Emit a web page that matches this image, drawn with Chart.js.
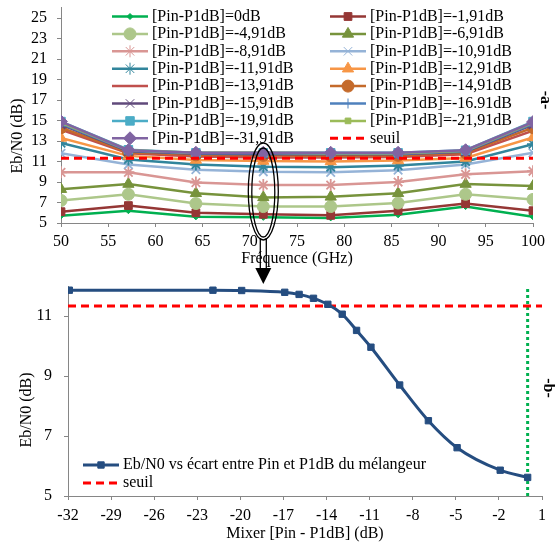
<!DOCTYPE html>
<html>
<head>
<meta charset="utf-8">
<script src="https://cdn.jsdelivr.net/npm/chart.js@4.4.0/dist/chart.umd.min.js"></script>
<style>
    html, body { margin: 0; padding: 0; background: #fff; }
    #wrap { position: relative; width: 555px; height: 543px; overflow: hidden; }
    #topChart { position: absolute; left: 0; top: 0; }
    #bottomChart { position: absolute; left: 0; top: 270px; }
</style>
</head>
<body>
<div id="wrap">
    <canvas id="topChart" width="555" height="290"></canvas>
    <canvas id="bottomChart" width="555" height="273"></canvas>
</div>
<script>
// ---- data (-a-) : Eb/N0 vs frequency, one series per mixer back-off ----
const frequencies = [50, 57.14, 64.29, 71.43, 78.57, 85.71, 92.86, 100];
const freqTicks = [50, 55, 60, 65, 70, 75, 80, 85, 90, 95, 100];
const topYTicks = [5, 7, 9, 11, 13, 15, 17, 19, 21, 23, 25];

const seriesLabels = [
    '[Pin-P1dB]=0dB', '[Pin-P1dB]=-1,91dB', '[Pin-P1dB]=-4,91dB', '[Pin-P1dB]=-6,91dB',
    '[Pin-P1dB]=-8,91dB', '[Pin-P1dB]=-10,91dB', '[Pin-P1dB]=-11,91dB', '[Pin-P1dB]=-12,91dB',
    '[Pin-P1dB]=-13,91dB', '[Pin-P1dB]=-14,91dB', '[Pin-P1dB]=-15,91dB', '[Pin-P1dB]=-16.91dB',
    '[Pin-P1dB]=-19,91dB', '[Pin-P1dB]=-21,91dB', '[Pin-P1dB]=-31,91dB'
];

const ebn0_0     = [5.7, 6.2, 5.6, 5.55, 5.5, 5.8, 6.6, 5.6];
const ebn0_1_91  = [6.1, 6.7, 6.0, 5.85, 5.75, 6.2, 6.9, 6.2];
const ebn0_4_91  = [7.2, 7.8, 6.9, 6.6, 6.6, 6.95, 7.8, 7.3];
const ebn0_6_91  = [8.3, 8.8, 7.9, 7.5, 7.55, 7.9, 8.8, 8.6];
const ebn0_8_91  = [9.95, 9.95, 8.95, 8.7, 8.7, 9.0, 9.75, 10.05];
const ebn0_10_91 = [11.8, 10.7, 10.2, 10.0, 9.95, 10.15, 10.7, 11.85];
const ebn0_11_91 = [12.8, 11.2, 10.7, 10.5, 10.45, 10.6, 11.0, 12.7];
const ebn0_12_91 = [13.3, 11.55, 11.15, 11.05, 11.0, 11.1, 11.35, 13.35];
const ebn0_13_91 = [14.1, 11.8, 11.5, 11.4, 11.4, 11.45, 11.7, 14.0];
const ebn0_14_91 = [14.3, 11.9, 11.65, 11.6, 11.55, 11.6, 11.85, 14.3];
const ebn0_15_91 = [14.6, 12.0, 11.75, 11.7, 11.7, 11.7, 11.95, 14.6];
const ebn0_16_91 = [14.7, 12.05, 11.8, 11.8, 11.75, 11.75, 12.0, 14.7];
const ebn0_19_91 = [14.9, 12.15, 11.85, 11.85, 11.85, 11.85, 12.1, 14.9];
const ebn0_21_91 = [14.8, 12.1, 11.85, 11.85, 11.8, 11.8, 12.05, 14.8];
const ebn0_31_91 = [14.9, 12.1, 11.85, 11.85, 11.85, 11.85, 12.1, 14.85];

const seriesValues = [
    ebn0_0, ebn0_1_91, ebn0_4_91, ebn0_6_91, ebn0_8_91, ebn0_10_91, ebn0_11_91, ebn0_12_91,
    ebn0_13_91, ebn0_14_91, ebn0_15_91, ebn0_16_91, ebn0_19_91, ebn0_21_91, ebn0_31_91
];

const seuil = 11.33;
const highlightFreq = 71.43;

// ---- data (-b-) : Eb/N0 vs mixer back-off at the highlighted frequency ----
const backoff = [-31.91, -21.91, -19.91, -16.91, -15.91, -14.91, -13.91, -12.91, -11.91, -10.91, -8.91, -6.91, -4.91, -1.91, 0];
const ebn0AtHighlight = [11.86, 11.86, 11.85, 11.79, 11.72, 11.59, 11.39, 11.06, 10.52, 9.96, 8.70, 7.51, 6.61, 5.86, 5.62];
const backoffTicks = [-32, -29, -26, -23, -20, -17, -14, -11, -8, -5, -2, 1];
const bottomYTicks = [5, 7, 9, 11];
const p1dbMarker = 0;

// ---- styles ----
const serif = 'Liberation Serif';
const axisGrey = '#868686';

const seriesStyles = [
    { color: '#00B050', pointStyle: 'rectRot', radius: 3 },
    { color: '#953735', pointStyle: 'rect', radius: 5.5 },
    { color: '#ADC78A', pointStyle: 'circle', radius: 6 },
    { color: '#77933C', pointStyle: 'triangle', radius: 6.5 },
    { color: '#D99694', pointStyle: 'star', radius: 6 },
    { color: '#95B3D7', pointStyle: 'crossRot', radius: 6 },
    { color: '#31859C', pointStyle: 'star', radius: 6 },
    { color: '#F79646', pointStyle: 'triangle', radius: 6.5 },
    { color: '#C0504D', pointStyle: 'line', radius: 5 },
    { color: '#C46A2B', pointStyle: 'circle', radius: 6 },
    { color: '#604A7B', pointStyle: 'crossRot', radius: 6 },
    { color: '#4F81BD', pointStyle: 'line', radius: 5, rotation: 90 },
    { color: '#4BACC6', pointStyle: 'rect', radius: 6 },
    { color: '#9BBB59', pointStyle: 'rect', radius: 4 },
    { color: '#8064A2', pointStyle: 'rectRot', radius: 6.5 }
];

function ticksFrom(list) {
    return function(scale) {
        scale.ticks = list.map(v => ({ value: v }));
    };
}

// fixed axis size, no extra padding for edge labels
function fixWidth(w) {
    return function(s) { s.width = w; s.paddingTop = 0; s.paddingBottom = 0; };
}
function fixHeight(h) {
    return function(s) { s.height = h; };
}

function drawMarker(ctx, ds, x, y) {
    if (!ds.pointRadius) return;
    ctx.save();
    ctx.fillStyle = ds.pointBackgroundColor;
    ctx.strokeStyle = ds.pointBorderColor;
    Chart.helpers.drawPoint(ctx, {
        pointStyle: ds.pointStyle,
        rotation: ds.pointRotation || 0,
        radius: ds.pointRadius,
        borderWidth: ds.pointBorderWidth
    }, x, y);
    ctx.restore();
}

// legend drawn inside the plot area, like the Excel original
const insideLegend = {
    id: 'insideLegend',
    afterDraw(chart, args, opts) {
        if (!opts || !opts.display) return;
        const ctx = chart.ctx;
        const items = chart.data.datasets.filter(d => d.inLegend !== false);
        ctx.save();
        ctx.font = opts.font;
        ctx.textBaseline = 'middle';
        ctx.textAlign = 'left';
        items.forEach((ds, i) => {
            const col = i % opts.cols;
            const row = Math.floor(i / opts.cols);
            const x = opts.left + col * opts.colWidth;
            const y = opts.top + row * opts.rowHeight;
            ctx.save();
            ctx.strokeStyle = ds.borderColor;
            ctx.lineWidth = ds.borderWidth;
            ctx.setLineDash(ds.borderDash || []);
            ctx.beginPath();
            ctx.moveTo(x, y);
            ctx.lineTo(x + opts.lineLen, y);
            ctx.stroke();
            ctx.restore();
            drawMarker(ctx, ds, x + opts.lineLen / 2, y);
            ctx.fillStyle = '#000';
            ctx.fillText(ds.label, x + opts.lineLen + opts.gap, y);
        });
        ctx.restore();
    }
};

// rotated axis title placed like the Excel one
const yTitle = {
    id: 'yTitle',
    afterDraw(chart, args, opts) {
        if (!opts || !opts.text) return;
        const ctx = chart.ctx;
        ctx.save();
        ctx.translate(opts.x, opts.y);
        ctx.rotate(-Math.PI / 2);
        ctx.font = '16px "' + serif + '"';
        ctx.fillStyle = '#000';
        ctx.textAlign = 'center';
        ctx.textBaseline = 'middle';
        ctx.fillText(opts.text, 0, 0);
        ctx.restore();
    }
};

function drawSideLabel(ctx, text, x, y) {
    ctx.save();
    ctx.translate(x, y);
    ctx.rotate(Math.PI / 2);
    ctx.font = 'bold 16px "' + serif + '"';
    ctx.fillStyle = '#000';
    ctx.textAlign = 'center';
    ctx.textBaseline = 'middle';
    ctx.fillText(text, 0, 0);
    ctx.restore();
}

// ellipse around the highlighted frequency and arrow down to chart -b-
const zoomAnnotation = {
    id: 'zoomAnnotation',
    afterDraw(chart) {
        const ctx = chart.ctx;
        const cx = chart.scales.x.getPixelForValue(highlightFreq);
        const top = 143, bottom = 240;
        const cy = (top + bottom) / 2;
        ctx.save();
        ctx.strokeStyle = '#000';
        ctx.lineWidth = 1.3;
        ctx.beginPath();
        ctx.ellipse(cx, cy, 15, (bottom - top) / 2, 0, 0, Math.PI * 2);
        ctx.stroke();
        ctx.beginPath();
        ctx.ellipse(cx, cy + 1, 11.5, (bottom - top) / 2 - 4, 0, 0, Math.PI * 2);
        ctx.stroke();
        // double shaft
        ctx.beginPath();
        ctx.moveTo(cx - 3, bottom - 2); ctx.lineTo(cx - 3, 270);
        ctx.moveTo(cx + 3, bottom - 2); ctx.lineTo(cx + 3, 270);
        ctx.stroke();
        // head
        ctx.fillStyle = '#000';
        ctx.beginPath();
        ctx.moveTo(cx - 8, 268);
        ctx.lineTo(cx + 8, 268);
        ctx.lineTo(cx, 284);
        ctx.closePath();
        ctx.fill();
        ctx.restore();
        drawSideLabel(ctx, '-a-', 545, 100);
    }
};

function axisFont() {
    return { family: serif, size: 16 };
}

function initTopChart() {
    const ctx = document.getElementById('topChart');
    const n = seriesValues.length;

    const datasets = seriesValues.map((vals, i) => {
        const st = seriesStyles[i];
        return {
            label: seriesLabels[i],
            data: frequencies.map((f, k) => ({ x: f, y: vals[k] })),
            borderColor: st.color,
            backgroundColor: st.color,
            borderWidth: 2.5,
            pointStyle: st.pointStyle,
            pointRadius: st.radius,
            pointRotation: st.rotation || 0,
            pointBackgroundColor: st.color,
            pointBorderColor: st.color,
            pointBorderWidth: (st.pointStyle === 'star' || st.pointStyle === 'crossRot' || st.pointStyle === 'line') ? 1.8 : 1,
            tension: 0,
            order: n + 1 - i
        };
    });

    datasets.push({
        label: 'seuil',
        data: [{ x: freqTicks[0], y: seuil }, { x: freqTicks[freqTicks.length - 1], y: seuil }],
        borderColor: '#FF0000',
        borderWidth: 3,
        borderDash: [8, 5],
        pointRadius: 0,
        order: 0
    });

    new Chart(ctx, {
        type: 'line',
        data: { datasets: datasets },
        options: {
            responsive: false,
            animation: false,
            layout: { padding: { left: 0, top: 7, right: 22, bottom: 22 } },
            plugins: {
                legend: { display: false },
                tooltip: { enabled: false },
                insideLegend: {
                    display: true,
                    font: '16px "' + serif + '"',
                    left: 112, top: 16.5, cols: 2, colWidth: 218, rowHeight: 17.4,
                    lineLen: 36, gap: 4
                },
                yTitle: { text: 'Eb/N0 (dB)', x: 18, y: 136 }
            },
            scales: {
                x: {
                    type: 'linear',
                    min: 50,
                    max: 100,
                    afterBuildTicks: ticksFrom(freqTicks),
                    afterFit: fixHeight(45),
                    grid: { drawOnChartArea: false, tickLength: 4, color: axisGrey },
                    border: { color: axisGrey },
                    ticks: { color: '#000', font: axisFont(), padding: 5, maxRotation: 0, autoSkip: false },
                    title: { display: true, text: 'Fréquence (GHz)', color: '#000', font: axisFont(), padding: 0 }
                },
                y: {
                    type: 'linear',
                    min: 5,
                    max: 26,
                    afterBuildTicks: ticksFrom(topYTicks),
                    afterFit: fixWidth(61),
                    grid: { drawOnChartArea: false, tickLength: 4, color: axisGrey },
                    border: { color: axisGrey },
                    ticks: { color: '#000', font: axisFont(), padding: 10, autoSkip: false }
                }
            }
        },
        plugins: [insideLegend, yTitle, zoomAnnotation]
    });
}

function initBottomChart() {
    const ctx = document.getElementById('bottomChart');

    const sideLabel = {
        id: 'sideLabel',
        afterDraw(chart) { drawSideLabel(chart.ctx, '-b-', 548, 118); }
    };

    new Chart(ctx, {
        type: 'line',
        data: {
            datasets: [
                {
                    label: 'Eb/N0 vs écart entre Pin et P1dB du mélangeur',
                    data: backoff.map((b, i) => ({ x: b, y: ebn0AtHighlight[i] })),
                    borderColor: '#254D80',
                    backgroundColor: '#254D80',
                    borderWidth: 3,
                    pointStyle: 'rect',
                    pointRadius: 4.5,
                    pointBackgroundColor: '#254D80',
                    pointBorderColor: '#254D80',
                    pointBorderWidth: 1,
                    cubicInterpolationMode: 'monotone',
                    order: 1
                },
                {
                    label: 'seuil',
                    data: [{ x: backoffTicks[0], y: seuil }, { x: backoffTicks[backoffTicks.length - 1], y: seuil }],
                    borderColor: '#FF0000',
                    borderWidth: 3,
                    borderDash: [8, 5],
                    pointRadius: 0,
                    order: 2
                },
                {
                    label: 'P1dB',
                    inLegend: false,
                    data: [{ x: p1dbMarker, y: 5 }, { x: p1dbMarker, y: 12 }],
                    borderColor: '#00B050',
                    borderWidth: 3,
                    borderDash: [3, 3],
                    pointRadius: 0,
                    order: 3
                }
            ]
        },
        options: {
            responsive: false,
            animation: false,
            layout: { padding: { left: 0, top: 16, right: 13, bottom: 0 } },
            plugins: {
                legend: { display: false },
                tooltip: { enabled: false },
                insideLegend: {
                    display: true,
                    font: '16px "' + serif + '"',
                    left: 83, top: 195, cols: 1, colWidth: 0, rowHeight: 18,
                    lineLen: 36, gap: 4
                },
                yTitle: { text: 'Eb/N0 (dB)', x: 27, y: 140 }
            },
            scales: {
                x: {
                    type: 'linear',
                    min: -32,
                    max: 1,
                    afterBuildTicks: ticksFrom(backoffTicks),
                    afterFit: fixHeight(47),
                    grid: { drawOnChartArea: false, tickLength: 4, color: axisGrey },
                    border: { color: axisGrey },
                    ticks: { color: '#000', font: axisFont(), padding: 6, maxRotation: 0, autoSkip: false },
                    title: { display: true, text: 'Mixer [Pin - P1dB] (dB)', color: '#000', font: axisFont(), padding: 0 }
                },
                y: {
                    type: 'linear',
                    min: 5,
                    max: 12,
                    afterBuildTicks: ticksFrom(bottomYTicks),
                    afterFit: fixWidth(68),
                    grid: { drawOnChartArea: false, tickLength: 4, color: axisGrey },
                    border: { color: axisGrey },
                    ticks: { color: '#000', font: axisFont(), padding: 12, autoSkip: false }
                }
            }
        },
        plugins: [insideLegend, yTitle, sideLabel]
    });
}

initTopChart();
initBottomChart();
</script>
</body>
</html>
